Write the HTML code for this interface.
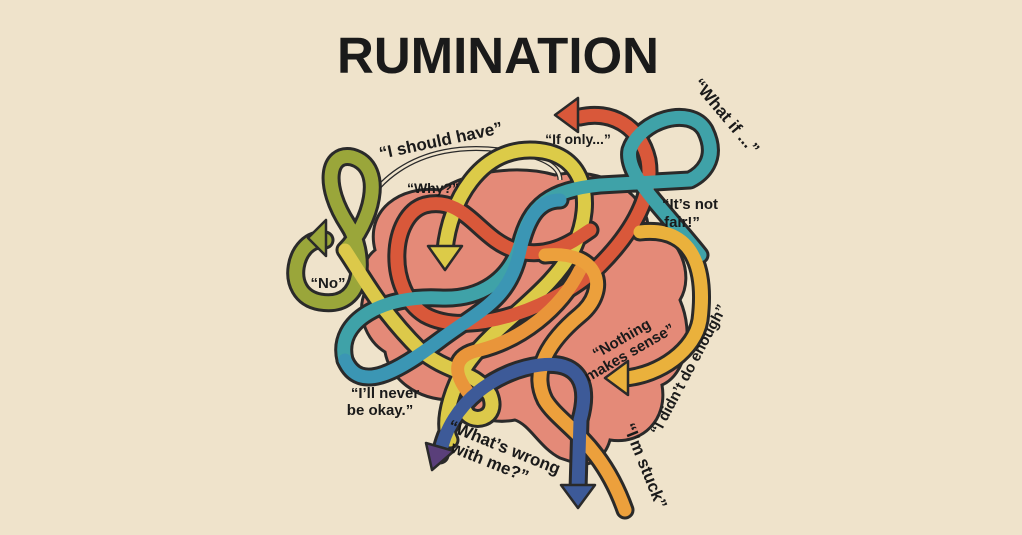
<!DOCTYPE html>
<html><head><meta charset="utf-8"><style>
html,body{margin:0;padding:0;background:#efe3cb;}
svg{display:block}
text{font-family:"Liberation Sans",sans-serif;font-weight:bold;fill:#1a1a1a}
</style></head><body>
<svg width="1022" height="535" viewBox="0 0 1022 535" xmlns="http://www.w3.org/2000/svg">
<rect width="1022" height="535" fill="#efe3cb"/>
<text x="498" y="73" font-size="51" text-anchor="middle" fill="#111">RUMINATION</text>

<!-- brain -->
<path d="M375,250 C365,210 400,185 440,190 C470,170 520,165 555,175 C605,165 645,195 648,225 C680,235 695,275 680,300 C695,335 685,375 662,385 C668,420 642,445 610,440 C605,458 590,468 575,463 L560,458 C540,448 530,425 515,420 C490,425 468,415 452,400 C415,400 390,378 385,352 C360,337 355,300 370,285 C360,270 365,258 375,250 Z" fill="#e48a78" stroke="#2a2a2a" stroke-width="3"/>

<!-- thin lines -->
<path d="M350,250 C360,180 420,140 500,150 C540,155 560,165 560,180" fill="none" stroke="#2a2a2a" stroke-width="5"/>
<path d="M350,250 C360,180 420,140 500,150 C540,155 560,165 560,180" fill="none" stroke="#efe3cb" stroke-width="2.5"/>

<g fill="none" stroke-linecap="round" stroke-linejoin="round">
<g stroke="#2a2a2a" stroke-width="19">
<path d="M325,240 C295,235 280,295 320,302 C368,310 365,250 348,225 C322,185 328,152 352,157 C388,167 370,225 345,250 C365,280 380,310 420,350 C450,375 475,370 490,395 C500,420 470,425 465,410"/>
<path d="M445,250 C450,200 480,150 530,150 C585,150 595,200 575,245 C555,290 500,320 470,360 C455,380 440,420 450,440"/>
<path d="M580,117 C610,110 640,125 648,160 C655,200 625,240 600,265 C560,305 470,340 425,315 C385,290 390,215 425,205 C465,195 480,240 515,250 C550,260 575,240 590,230"/>
<path d="M345,360 C335,320 385,295 440,298 C480,300 510,280 520,245 C530,205 550,190 600,185 L690,180 C700,175 720,160 705,130 C690,105 640,120 630,150 C625,175 660,205 700,255"/>
<path d="M345,360 C360,395 400,370 440,340 C480,310 510,300 520,250 C528,215 540,200 560,200"/>
<path d="M640,232 C700,225 705,280 700,320 C695,350 660,375 625,378"/>
<path d="M470,395 C450,370 455,355 480,350 C520,340 560,310 580,270"/>
<path d="M545,255 C600,250 610,290 580,315 C550,340 530,370 545,400 C560,425 600,440 625,510"/>
<path d="M440,455 C450,400 500,370 540,365 C580,360 590,385 580,420 L578,490"/>
</g>
<path d="M325,240 C295,235 280,295 320,302 C368,310 365,250 348,225 C322,185 328,152 352,157 C388,167 370,225 345,250" stroke="#9aa63a" stroke-width="13"/>
<path d="M345,250 C365,280 380,310 420,350 C450,375 475,370 490,395 C500,420 470,425 465,410" stroke="#dcc94a" stroke-width="13"/>
<path d="M445,250 C450,200 480,150 530,150 C585,150 595,200 575,245 C555,290 500,320 470,360 C455,380 440,420 450,440" stroke="#dccb48" stroke-width="13"/>
<path d="M580,117 C610,110 640,125 648,160 C655,200 625,240 600,265 C560,305 470,340 425,315 C385,290 390,215 425,205 C465,195 480,240 515,250 C550,260 575,240 590,230" stroke="#d9583a" stroke-width="13"/>
<path d="M345,360 C335,320 385,295 440,298 C480,300 510,280 520,245 C530,205 550,190 600,185 L690,180 C700,175 720,160 705,130 C690,105 640,120 630,150 C625,175 660,205 700,255" stroke="#3fa2a8" stroke-width="13"/>
<path d="M345,360 C360,395 400,370 440,340 C480,310 510,300 520,250 C528,215 540,200 560,200" stroke="#3b96b4" stroke-width="13"/>
<path d="M640,232 C700,225 705,280 700,320 C695,350 660,375 625,378" stroke="#eab13c" stroke-width="13"/>
<path d="M470,395 C450,370 455,355 480,350 C520,340 560,310 580,270" stroke="#e9953a" stroke-width="13"/>
<path d="M545,255 C600,250 610,290 580,315 C550,340 530,370 545,400 C560,425 600,440 625,510" stroke="#eca03c" stroke-width="13"/>
<path d="M440,455 C450,400 500,370 540,365 C580,360 590,385 580,420 L578,490" stroke="#3d5a98" stroke-width="13"/>
</g>
<g stroke="#2a2a2a" stroke-width="2.5" stroke-linejoin="round">
<polygon points="308,238 326,220 326,256" fill="#9aa63a"/>
<polygon points="445,270 428,246 462,246" fill="#dccb48"/>
<polygon points="555,115 578,98 578,132" fill="#d9583a"/>
<polygon points="605,378 628,361 628,395" fill="#eab13c"/>
<polygon points="432,470 426,443 454,451" fill="#5a3f7a"/>
<polygon points="578,508 561,485 595,485" fill="#3d5a98"/>
</g>

<g font-size="15">
<text transform="translate(442,146) rotate(-12)" text-anchor="middle" font-size="17">“I should have”</text>
<text x="578" y="144" text-anchor="middle" font-size="14">“If only...”</text>
<text transform="translate(722,120) rotate(50)" text-anchor="middle" font-size="17">“What if ...”</text>
<text x="433" y="193" text-anchor="middle" font-size="14">“Why?”</text>
<text x="690" y="209" text-anchor="middle">“It’s not</text>
<text x="682" y="227" text-anchor="middle">fair!”</text>
<text x="328" y="288" text-anchor="middle">“No”</text>
<g transform="translate(628,350) rotate(-30)"><text x="0" y="-8" text-anchor="middle">“Nothing</text><text x="0" y="8" text-anchor="middle">makes sense”</text></g>
<text transform="translate(693,372) rotate(-62)" text-anchor="middle">“I didn’t do enough”</text>
<text x="385" y="398" text-anchor="middle">“I’ll never</text>
<text x="380" y="415" text-anchor="middle">be okay.”</text>
<g transform="translate(500,458) rotate(22)" font-size="17"><text x="0" y="-6" text-anchor="middle">“What’s wrong</text><text x="-8" y="13" text-anchor="middle">with me?”</text></g>
<text transform="translate(640,468) rotate(68)" text-anchor="middle" font-size="17">“I’m stuck”</text>
</g>
</svg>
</body></html>
